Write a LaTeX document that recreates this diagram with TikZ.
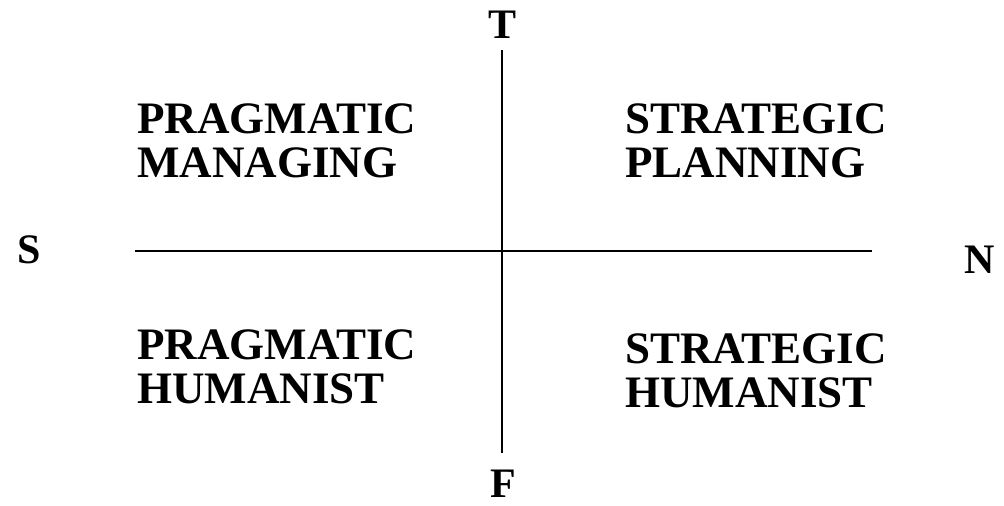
\documentclass[tikz,border=0pt]{standalone}
\usepackage{fontspec}
\setmainfont{Liberation Serif}
\begin{document}
\begin{tikzpicture}[x=1pt,y=-1pt,
  axis/.style={line width=2pt,black},
  quad/.style={anchor=base west,align=left,inner sep=0pt,
    font=\fontsize{45}{44}\selectfont\bfseries},
  pole/.style={inner sep=0pt,font=\fontsize{42}{42}\selectfont\bfseries}]
\useasboundingbox (0,0) rectangle (1004,506);
\coordinate (vt) at (502,50);
\coordinate (vb) at (502,453);
\coordinate (hl) at (135,251);
\coordinate (hr) at (872,251);
\draw[axis] (vt) -- (vb);
\draw[axis] (hl) -- (hr);
\node[pole,anchor=base] (T) at (503,38) {T};
\node[pole,anchor=base] (F) at (503,497) {F};
\node[pole,anchor=base] (S) at (29,263) {S};
\node[pole,anchor=base] (N) at (980,273) {N};
\node[quad] (pm) at (137,177) {PRAGMATIC\\MANAGING};
\node[quad] (sp) at (625,177) {STRATEGIC\\PLANNING};
\node[quad] (ph) at (137,403) {PRAGMATIC\\HUMANIST};
\node[quad] (sh) at (625,407) {STRATEGIC\\HUMANIST};
\end{tikzpicture}
\end{document}
